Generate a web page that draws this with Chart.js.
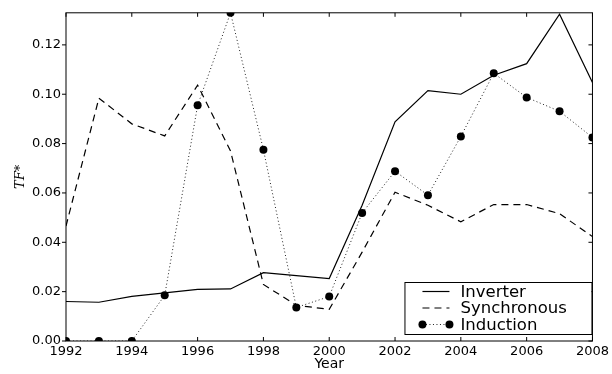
<!DOCTYPE html>
<html>
<head>
<meta charset="utf-8">
<script src="https://cdn.jsdelivr.net/npm/chart.js@4/dist/chart.umd.min.js"></script>
<style>
  html, body { margin: 0; padding: 0; background: #fff; }
  #wrap { width: 612px; height: 374px; }
</style>
</head>
<body>
<div id="wrap"><canvas id="chart" width="612" height="374"></canvas></div>
<script>
// values
const years = [1992, 1993, 1994, 1995, 1996, 1997, 1998, 1999, 2000, 2001, 2002, 2003, 2004, 2005, 2006, 2007, 2008];
const inverter = [0.0160, 0.0157, 0.0181, 0.0195, 0.0209, 0.0211, 0.0277, 0.0265, 0.0253, 0.0550, 0.0888, 0.1015, 0.1000, 0.1077, 0.1124, 0.1324, 0.1048];
const synchronous = [0.0466, 0.0984, 0.0880, 0.0831, 0.1037, 0.0770, 0.0229, 0.0145, 0.0128, 0.0360, 0.0603, 0.0550, 0.0483, 0.0553, 0.0553, 0.0516, 0.0423];
const induction = [0.0, 0.0, 0.0, 0.0185, 0.0955, 0.1330, 0.0775, 0.0136, 0.0180, 0.0519, 0.0688, 0.0591, 0.0829, 0.1085, 0.0987, 0.0931, 0.0825];

const xTicks = [1992, 1994, 1996, 1998, 2000, 2002, 2004, 2006, 2008];
const yTicks = [0.00, 0.02, 0.04, 0.06, 0.08, 0.10, 0.12];

const toPoints = arr => arr.map((v, i) => ({ x: years[i], y: v }));
const yMax = Math.max(...inverter, ...synchronous, ...induction);

const FONT = 'DejaVu Sans';

// frame + ticks like the matplotlib original
const framePlugin = {
  id: 'frame',
  afterDatasetsDraw(chart) {
    const { ctx, chartArea: ca, scales } = chart;
    ctx.save();
    ctx.strokeStyle = '#000';
    ctx.lineWidth = 1;
    ctx.strokeRect(ca.left, ca.top, ca.right - ca.left, ca.bottom - ca.top);
    ctx.beginPath();
    xTicks.forEach(v => {
      const x = scales.x.getPixelForValue(v);
      ctx.moveTo(x, ca.bottom); ctx.lineTo(x, ca.bottom - 4);
      ctx.moveTo(x, ca.top); ctx.lineTo(x, ca.top + 4);
    });
    yTicks.forEach(v => {
      const y = scales.y.getPixelForValue(v);
      ctx.moveTo(ca.left, y); ctx.lineTo(ca.left - 4, y);
      ctx.moveTo(ca.right, y); ctx.lineTo(ca.right - 4, y);
    });
    ctx.stroke();
    ctx.restore();
  }
};

// legend box in the lower right of the axes
const legendPlugin = {
  id: 'boxLegend',
  afterDraw(chart) {
    const { ctx, chartArea: ca } = chart;
    const w = 187, h = 52;
    const bx = ca.right - 1 - w, by = ca.bottom - 7 - h;
    ctx.save();
    ctx.fillStyle = '#fff';
    ctx.fillRect(bx, by, w, h);
    ctx.strokeStyle = '#000';
    ctx.lineWidth = 1;
    ctx.strokeRect(bx + 0.5, by + 0.5, w, h);
    ctx.font = '16.5px ' + FONT;
    ctx.textBaseline = 'middle';
    ctx.fillStyle = '#000';
    chart.data.datasets.forEach((ds, i) => {
      const y = by + 9.5 + i * 16.5;
      const x0 = bx + 18, x1 = bx + 45;
      ctx.beginPath();
      ctx.setLineDash(ds.borderDash || []);
      ctx.lineWidth = ds.borderWidth;
      ctx.strokeStyle = ds.borderColor;
      ctx.moveTo(x0, y); ctx.lineTo(x1, y);
      ctx.stroke();
      ctx.setLineDash([]);
      if (ds.pointRadius > 0) {
        [x0, x1].forEach(px => {
          ctx.beginPath();
          ctx.arc(px, y, ds.pointRadius, 0, Math.PI * 2);
          ctx.fillStyle = '#000';
          ctx.fill();
        });
      }
      ctx.fillStyle = '#000';
      ctx.fillText(ds.label, bx + 56, y + 1);
    });
    ctx.restore();
  }
};

new Chart(document.getElementById('chart'), {
  type: 'line',
  data: {
    datasets: [{
      label: 'Inverter',
      data: toPoints(inverter),
      borderColor: '#000',
      borderWidth: 1.2,
      pointRadius: 0,
      tension: 0,
      clip: 0
    }, {
      label: 'Synchronous',
      data: toPoints(synchronous),
      borderColor: '#000',
      borderWidth: 1.2,
      borderDash: [7, 5],
      pointRadius: 0,
      tension: 0,
      clip: 0
    }, {
      label: 'Induction',
      data: toPoints(induction),
      borderColor: '#222',
      borderWidth: 1,
      borderDash: [1, 2.5],
      pointRadius: 4,
      pointBackgroundColor: '#000',
      pointBorderColor: '#000',
      pointBorderWidth: 0,
      tension: 0,
      clip: 0
    }]
  },
  options: {
    responsive: false,
    animation: false,
    events: [],
    layout: { padding: { top: 8, right: 19, left: 0, bottom: 0 } },
    plugins: {
      legend: { display: false },
      tooltip: { enabled: false }
    },
    scales: {
      x: {
        type: 'linear',
        min: 1992,
        max: 2008,
        grid: { display: false, drawTicks: false },
        border: { display: false },
        afterBuildTicks: scale => { scale.ticks = xTicks.map(v => ({ value: v })); },
        afterFit: scale => { scale.height = 33; },
        ticks: {
          autoSkip: false,
          maxRotation: 0,
          padding: 3,
          color: '#000',
          font: { family: FONT, size: 13 },
          callback: v => String(v)
        },
        title: {
          display: true,
          text: 'Year',
          color: '#000',
          font: { family: FONT, size: 14 },
          padding: { top: 0, bottom: 1 }
        }
      },
      y: {
        min: 0,
        max: yMax,
        grid: { display: false, drawTicks: false },
        border: { display: false },
        afterBuildTicks: scale => { scale.ticks = yTicks.map(v => ({ value: v })); },
        afterFit: scale => { scale.width = 66; },
        ticks: {
          padding: 5,
          color: '#000',
          font: { family: FONT, size: 13 },
          callback: v => v.toFixed(2)
        },
        title: {
          display: true,
          text: 'TF*',
          color: '#000',
          font: { family: 'DejaVu Serif', size: 13, style: 'italic' },
          padding: { top: 13, bottom: 0 }
        }
      }
    }
  },
  plugins: [framePlugin, legendPlugin]
});
</script>
</body>
</html>
